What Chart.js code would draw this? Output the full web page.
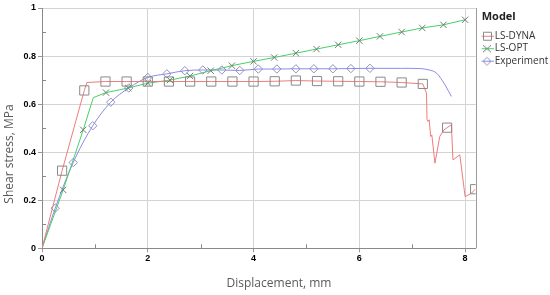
<!DOCTYPE html>
<html>
<head>
<meta charset="utf-8">
<script src="https://cdn.jsdelivr.net/npm/chart.js@4"></script>
<style>
html,body{margin:0;padding:0;background:#fff;}
canvas{display:block;}
</style>
</head>
<body>
<canvas id="c" width="550" height="295"></canvas>
<script>
// ---- data ----
const seriesNames = ['LS-DYNA', 'LS-OPT', 'Experiment'];
const legendTitle = 'Model';
const xTitle = 'Displacement, mm';
const yTitle = 'Shear stress, MPa';
const xTicks = [0, 2, 4, 6, 8];
const yTicks = [0, 0.2, 0.4, 0.6, 0.8, 1];
const xMinorTicks = [1, 3, 5, 7];
const yMinorTicks = [0.1, 0.3, 0.5, 0.7, 0.9];

const dynaX = [0, 0.38, 0.8, 0.85, 1.2, 1.6, 2.0, 2.4, 2.8, 3.2, 3.6, 4.0, 4.4, 4.8, 5.2, 5.6, 6.0, 6.4, 6.8, 7.2,
               7.27, 7.28, 7.30, 7.32, 7.35, 7.37, 7.43, 7.52, 7.60, 7.66, 7.74, 7.77, 7.90, 8.0, 8.12, 8.19];
const dynaY = [0, 0.323, 0.657, 0.69, 0.694, 0.694, 0.694, 0.694, 0.694, 0.694, 0.694, 0.694, 0.695, 0.698, 0.696, 0.695, 0.694, 0.693, 0.69, 0.684,
               0.646, 0.535, 0.528, 0.535, 0.465, 0.472, 0.354, 0.465, 0.493, 0.502, 0.514, 0.368, 0.389, 0.215, 0.229, 0.246];
const dynaMarkX = [0.38, 0.8, 1.2, 1.6, 2.0, 2.4, 2.8, 3.2, 3.6, 4.0, 4.4, 4.8, 5.2, 5.6, 6.0, 6.4, 6.8, 7.2, 7.66, 8.19];
const dynaMarkY = [0.323, 0.657, 0.694, 0.694, 0.694, 0.694, 0.694, 0.694, 0.694, 0.694, 0.695, 0.698, 0.696, 0.695, 0.694, 0.693, 0.69, 0.684, 0.502, 0.246];

const optX = [0, 0.4, 0.78, 0.97, 1.21, 1.63, 2.0, 2.42, 2.8, 3.19, 3.59, 4.0, 4.39, 4.8, 5.19, 5.6, 6.0, 6.39, 6.8, 7.19, 7.59, 8.0];
const optY = [0, 0.243, 0.493, 0.627, 0.648, 0.667, 0.687, 0.70, 0.717, 0.739, 0.76, 0.778, 0.794, 0.812, 0.829, 0.847, 0.864, 0.882, 0.9, 0.917, 0.93, 0.951];
const optMarkX = [0.4, 0.78, 1.21, 1.63, 2.0, 2.42, 2.8, 3.19, 3.59, 4.0, 4.39, 4.8, 5.19, 5.6, 6.0, 6.39, 6.8, 7.19, 7.59, 8.0];
const optMarkY = [0.243, 0.493, 0.648, 0.667, 0.687, 0.70, 0.717, 0.739, 0.76, 0.778, 0.794, 0.812, 0.829, 0.847, 0.864, 0.882, 0.9, 0.917, 0.93, 0.951];

const expX = [0, 0.25, 0.59, 0.96, 1.30, 1.64, 2.0, 2.36, 2.70, 3.04, 3.40, 3.74, 4.09, 4.44, 4.80, 5.14, 5.50, 5.84, 6.2, 6.8, 7.15, 7.3, 7.46, 7.62, 7.74];
const expY = [0, 0.167, 0.357, 0.51, 0.608, 0.667, 0.711, 0.726, 0.739, 0.742, 0.742, 0.74, 0.746, 0.746, 0.747, 0.747, 0.747, 0.748, 0.749, 0.749, 0.748, 0.743, 0.729, 0.68, 0.632];
const expMarkX = [0.25, 0.59, 0.96, 1.30, 1.64, 2.0, 2.36, 2.70, 3.04, 3.40, 3.74, 4.09, 4.44, 4.80, 5.14, 5.50, 5.84, 6.2];
const expMarkY = [0.167, 0.357, 0.51, 0.608, 0.667, 0.711, 0.726, 0.739, 0.742, 0.742, 0.74, 0.746, 0.746, 0.747, 0.747, 0.747, 0.748, 0.749];

// ---- styling ----
const lineColors = ['#ef7c7c', '#45d068', '#8b8be6'];
const markColors = ['#8a8a8a', '#6f7f70', '#9292bc'];
const pts = (xs, ys) => xs.map((x, i) => ({x: x, y: ys[i]}));

function makeIcon(lineColor, markColor, kind) {
  const c = document.createElement('canvas');
  c.width = 20; c.height = 12;
  const g = c.getContext('2d');
  g.lineWidth = 1;
  g.strokeStyle = lineColor;
  g.beginPath(); g.moveTo(3, 6.5); g.lineTo(17, 6.5); g.stroke();
  g.strokeStyle = markColor;
  const cx = 10, cy = 6.5;
  g.beginPath();
  if (kind === 'rect') {
    g.rect(cx - 3.5, cy - 4, 8, 8);
  } else if (kind === 'cross') {
    g.moveTo(cx - 4, cy - 3.5); g.lineTo(cx + 4, cy + 3.5);
    g.moveTo(cx + 4, cy - 3.5); g.lineTo(cx - 4, cy + 3.5);
  } else {
    g.moveTo(cx, cy - 4); g.lineTo(cx + 4, cy); g.lineTo(cx, cy + 4); g.lineTo(cx - 4, cy); g.closePath();
  }
  g.stroke();
  return c;
}
const icons = [
  makeIcon(lineColors[0], markColors[0], 'rect'),
  makeIcon(lineColors[1], markColors[1], 'cross'),
  makeIcon(lineColors[2], markColors[2], 'diamond')
];

function lineDs(i, xs, ys, extra) {
  return Object.assign({
    label: seriesNames[i], data: pts(xs, ys), borderColor: lineColors[i], backgroundColor: lineColors[i],
    borderWidth: 1, pointRadius: 0, pointHoverRadius: 0, pointStyle: icons[i], fill: false, tension: 0, order: 2
  }, extra || {});
}
function markDs(i, xs, ys, style, r) {
  return {
    label: seriesNames[i] + ' markers', data: pts(xs, ys), showLine: false,
    pointStyle: style, pointRadius: r, pointHoverRadius: r, pointBorderWidth: 1,
    pointBorderColor: markColors[i], pointBackgroundColor: 'rgba(0,0,0,0)', order: 1, isMarker: true
  };
}

const frame = {
  id: 'frame',
  beforeLayout(chart) {
    const lg = chart.legend;
    if (lg && !lg._patched) {
      lg._patched = true;
      const f = lg.fit;
      lg.fit = function () { f.call(this); this.width = 74.3; };
    }
  },
  afterLayout(chart) {
    const lg = chart.legend;
    if (lg) { lg.left += 6; lg.right += 6; }
  },
  beforeDatasetsDraw(chart) {
    const {ctx, chartArea: a, scales: {x, y}} = chart;
    ctx.save();
    ctx.strokeStyle = '#9a9a9a';
    ctx.lineWidth = 1;
    ctx.beginPath();
    ctx.moveTo(Math.round(a.right) + 0.5, a.top); ctx.lineTo(Math.round(a.right) + 0.5, a.bottom);
    ctx.stroke();
    ctx.strokeStyle = '#888';
    ctx.beginPath();
    xMinorTicks.forEach(v => { const p = Math.round(x.getPixelForValue(v)) + 0.5; ctx.moveTo(p, a.bottom); ctx.lineTo(p, a.bottom - 4); });
    yMinorTicks.forEach(v => { const p = Math.round(y.getPixelForValue(v)) + 0.5; ctx.moveTo(a.left, p); ctx.lineTo(a.left + 4, p); });
    ctx.stroke();
    ctx.restore();
  },
  afterDraw(chart) {
    const ctx = chart.ctx;
    ctx.save();
    ctx.fillStyle = '#5a5a5a';
    ctx.font = '12px "Open Sans"';
    ctx.textAlign = 'center';
    ctx.textBaseline = 'middle';
    ctx.fillText(xTitle, 279, 284);
    ctx.translate(10, 154);
    ctx.rotate(-Math.PI / 2);
    ctx.fillText(yTitle, 0, 0);
    ctx.restore();
  }
};

const tickFont = {family: '"Liberation Sans", Arial', size: 9, weight: 'bold'};

new Chart(document.getElementById('c'), {
  type: 'line',
  data: {
    datasets: [
      markDs(0, dynaMarkX, dynaMarkY, 'rect', 6.5),
      markDs(1, optMarkX, optMarkY, 'crossRot', 4.5),
      markDs(2, expMarkX, expMarkY, 'rectRot', 4.2),
      lineDs(0, dynaX, dynaY),
      lineDs(1, optX, optY),
      lineDs(2, expX, expY, {cubicInterpolationMode: 'monotone'})
    ]
  },
  options: {
    responsive: false,
    devicePixelRatio: 1,
    animation: false,
    events: [],
    layout: {padding: {top: 8, left: 0, right: 0, bottom: 0}},
    scales: {
      x: {
        type: 'linear', min: 0, max: 8.2,
        afterBuildTicks: s => { s.ticks = xTicks.map(v => ({value: v})); },
        afterFit: s => { s.height = 46.7; },
        ticks: {font: tickFont, color: '#000', padding: 1, maxRotation: 0, autoSkip: false, callback: v => String(v)},
        grid: {color: '#d3d3d3', tickLength: 4, tickColor: '#999'},
        border: {color: '#8a8a8a'}
      },
      y: {
        type: 'linear', min: 0, max: 1,
        afterBuildTicks: s => { s.ticks = yTicks.map(v => ({value: v})); },
        afterFit: s => { s.width = 42; },
        ticks: {font: tickFont, color: '#000', padding: 2, autoSkip: false, callback: v => String(+(+v).toFixed(1))},
        grid: {color: '#d3d3d3', tickLength: 4, tickColor: '#999'},
        border: {color: '#8a8a8a'}
      }
    },
    plugins: {
      tooltip: {enabled: false},
      legend: {
        position: 'right',
        align: 'start',
        title: {display: true, text: legendTitle, position: 'start', color: '#222',
                font: {family: '"Open Sans"', size: 11, weight: 'bold'}, padding: {top: 3, bottom: 4}},
        labels: {
          usePointStyle: true, pointStyleWidth: 5.5, padding: 2.5, color: '#333',
          font: {family: '"Open Sans"', size: 10},
          filter: (item, data) => !data.datasets[item.datasetIndex].isMarker
        }
      }
    }
  },
  plugins: [frame]
});
</script>
</body>
</html>
